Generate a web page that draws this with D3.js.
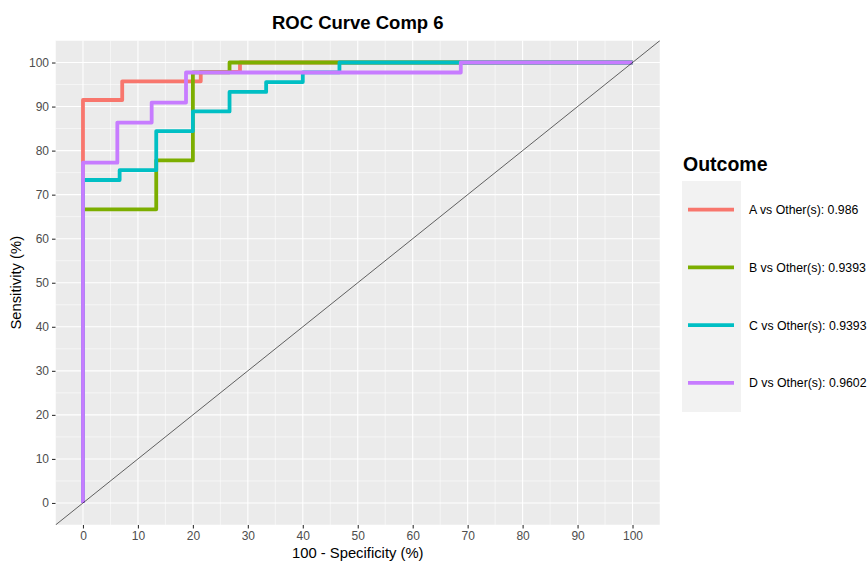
<html>
<head>
  <meta charset="utf-8">
  <script src="https://d3js.org/d3.v7.min.js"></script>
  <style>
    body { margin: 0; background: white; }
    text { font-family: "Liberation Sans", Arial, sans-serif; }
  </style>
  <script>
    // ROC step vertices (100 - specificity, sensitivity)
    var seriesNames = ["A vs Other(s): 0.986", "B vs Other(s): 0.9393", "C vs Other(s): 0.9393", "D vs Other(s): 0.9602"];
    var colors = ["#F8766D", "#7CAE00", "#00BFC4", "#C77CFF"];

    var fprA = [0, 0, 7.14, 7.14, 21.43, 21.43, 28.57, 28.57, 100];
    var tprA = [0, 91.49, 91.49, 95.74, 95.74, 97.87, 97.87, 100, 100];

    var fprB = [0, 0, 13.33, 13.33, 20, 20, 26.67, 26.67, 100];
    var tprB = [0, 66.67, 66.67, 77.78, 77.78, 97.78, 97.78, 100, 100];

    var fprC = [0, 0, 6.67, 6.67, 13.33, 13.33, 20, 20, 26.67, 26.67, 33.33, 33.33, 40, 40, 46.67, 46.67, 100];
    var tprC = [0, 73.33, 73.33, 75.56, 75.56, 84.44, 84.44, 88.89, 88.89, 93.33, 93.33, 95.56, 95.56, 97.78, 97.78, 100, 100];

    var fprD = [0, 0, 6.25, 6.25, 12.5, 12.5, 18.75, 18.75, 68.75, 68.75, 100];
    var tprD = [0, 77.27, 77.27, 86.36, 86.36, 90.91, 90.91, 97.73, 97.73, 100, 100];

    var ticks = [0, 10, 20, 30, 40, 50, 60, 70, 80, 90, 100];
    var minorTicks = [-5, 5, 15, 25, 35, 45, 55, 65, 75, 85, 95, 105];

    function makeChart() {
      var svg = d3.select("#roc");
      var left = 55.5, right = 660, top = 40.5, bottom = 525;
      var xSc = d3.scaleLinear().domain([-5, 105]).range([left, right]);
      var ySc = d3.scaleLinear().domain([-5, 105]).range([bottom, top]);

      svg.append("rect").attr("x", left).attr("y", top)
        .attr("width", right - left).attr("height", bottom - top)
        .attr("fill", "#EBEBEB");

      var grid = svg.append("g");
      minorTicks.forEach(function(t) {
        grid.append("line").attr("x1", xSc(t)).attr("x2", xSc(t)).attr("y1", top).attr("y2", bottom)
          .attr("stroke", "white").attr("stroke-width", 0.55);
        grid.append("line").attr("y1", ySc(t)).attr("y2", ySc(t)).attr("x1", left).attr("x2", right)
          .attr("stroke", "white").attr("stroke-width", 0.55);
      });
      ticks.forEach(function(t) {
        grid.append("line").attr("x1", xSc(t)).attr("x2", xSc(t)).attr("y1", top).attr("y2", bottom)
          .attr("stroke", "white").attr("stroke-width", 1.1);
        grid.append("line").attr("y1", ySc(t)).attr("y2", ySc(t)).attr("x1", left).attr("x2", right)
          .attr("stroke", "white").attr("stroke-width", 1.1);
      });

      // axes
      var xAxis = svg.append("g").attr("transform", "translate(0," + bottom + ")")
        .call(d3.axisBottom(xSc).tickValues(ticks).tickSize(3.5).tickPadding(3));
      var yAxis = svg.append("g").attr("transform", "translate(" + left + ",0)")
        .call(d3.axisLeft(ySc).tickValues(ticks).tickSize(3.5).tickPadding(3));
      [xAxis, yAxis].forEach(function(a) {
        a.select(".domain").remove();
        a.selectAll(".tick line").attr("stroke", "#333333").attr("stroke-width", 1.1);
        a.selectAll(".tick text").attr("fill", "#4D4D4D").style("font-size", "12px")
          .style("font-family", "Liberation Sans, Arial, sans-serif");
      });

      // curves
      var clip = svg.append("clipPath").attr("id", "panel").append("rect")
        .attr("x", left).attr("y", top).attr("width", right - left).attr("height", bottom - top);
      var plot = svg.append("g").attr("clip-path", "url(#panel)");

      var curveData = [
        d3.zip(fprA, tprA), d3.zip(fprB, tprB), d3.zip(fprC, tprC), d3.zip(fprD, tprD)
      ];
      var line = d3.line().x(d => xSc(d[0])).y(d => ySc(d[1]));
      plot.selectAll("path.roc").data(curveData).enter()
        .append("path").attr("class", "roc").attr("d", line)
        .attr("fill", "none").attr("stroke", (d, i) => colors[i])
        .attr("stroke-width", 3.8).attr("stroke-linejoin", "round");

      // diagonal reference
      plot.append("line").attr("x1", xSc(-5)).attr("y1", ySc(-5)).attr("x2", xSc(105)).attr("y2", ySc(105))
        .attr("stroke", "black").attr("stroke-width", 0.6);

      // titles
      svg.append("text").attr("x", (left + right) / 2).attr("y", 29)
        .attr("text-anchor", "middle").style("font-size", "18.5px").style("font-weight", "bold")
        .text("ROC Curve Comp 6");
      svg.append("text").attr("x", (left + right) / 2).attr("y", 558)
        .attr("text-anchor", "middle").style("font-size", "14.8px")
        .text("100 - Specificity (%)");
      svg.append("text").attr("transform", "translate(21," + ((top + bottom) / 2) + ") rotate(-90)")
        .attr("text-anchor", "middle").style("font-size", "14.8px")
        .text("Sensitivity (%)");

      // legend
      var leg = svg.append("g");
      leg.append("text").attr("x", 683).attr("y", 171).style("font-size", "19.5px").style("font-weight", "bold")
        .text("Outcome");
      leg.append("rect").attr("x", 682).attr("y", 181).attr("width", 59).attr("height", 231)
        .attr("fill", "#F2F2F2");
      seriesNames.forEach(function(name, i) {
        var ky = 209.7 + i * 57.7;
        leg.append("line").attr("x1", 688).attr("x2", 734).attr("y1", ky).attr("y2", ky)
          .attr("stroke", colors[i]).attr("stroke-width", 3.8);
        leg.append("text").attr("x", 749).attr("y", ky + 4.5).style("font-size", "12.3px")
          .text(name);
      });
    }
  </script>
</head>

<body onload="makeChart()">
  <svg id="roc" width="867" height="563"></svg>
</body>
</html>
